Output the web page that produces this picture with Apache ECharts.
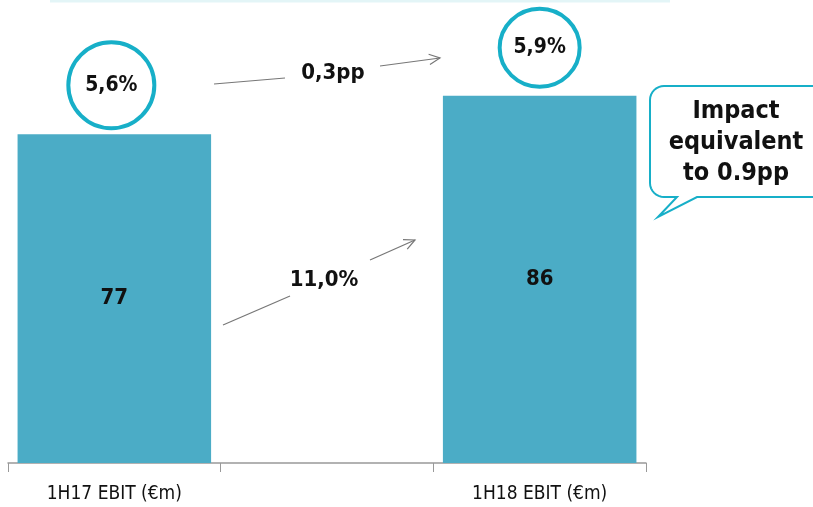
<!DOCTYPE html>
<html><head><meta charset="utf-8">
<script src="https://cdn.jsdelivr.net/npm/echarts@6/dist/echarts.min.js"></script>
<style>html,body{margin:0;padding:0;background:#fff}#c{width:813px;height:507px}</style>
</head><body><div id="c"></div>
<script>
const categories = ['1H17 EBIT (€m)', '', '1H18 EBIT (€m)'];
const ebit = [77, null, 86];
const margins = ['5,6%', '5,9%'];
const marginDelta = '0,3pp';
const ebitGrowth = '11,0%';
const calloutLines = ['Impact', 'equivalent', 'to 0.9pp'];

const FONT = '"Liberation Sans Narrow","DejaVu Sans Condensed","Roboto",sans-serif';
const BAR = '#4BACC6';
const RING = '#17AFC8';

const chart = echarts.init(document.getElementById('c'));
chart.setOption({
  animation: false,
  grid: { left: 8, right: 167, top: 36, bottom: 44 },
  xAxis: {
    type: 'category', data: categories,
    axisLine: { lineStyle: { color: '#999', width: 1.5 } },
    axisTick: { show: true, length: 9, lineStyle: { color: '#999' } },
    axisLabel: { color: '#111', fontSize: 19, fontFamily: FONT, margin: 22 }
  },
  yAxis: { type: 'value', min: 0, max: 100, show: false, splitLine: { show: false } },
  series: [{
    type: 'bar', data: ebit, barWidth: '91%',
    itemStyle: { color: BAR },
    label: { show: true, position: 'inside', color: '#111', fontSize: 22, fontWeight: 'bold', fontFamily: FONT }
  }]
});

const p0 = chart.convertToPixel({ xAxisIndex: 0 }, categories[0]);
const p2 = chart.convertToPixel({ xAxisIndex: 0 }, categories[2]);
const top0 = chart.convertToPixel({ yAxisIndex: 0 }, ebit[0]);
const top2 = chart.convertToPixel({ yAxisIndex: 0 }, ebit[2]);

function arrowHead(x, y, ang) {
  const L = 12, a = 0.45;
  return { type: 'polyline', shape: { points: [
    [x - L * Math.cos(ang - a), y - L * Math.sin(ang - a)], [x, y],
    [x - L * Math.cos(ang + a), y - L * Math.sin(ang + a)]] },
    style: { stroke: '#777', fill: null, lineWidth: 1.2 } };
}
function ring(cx, cy, rx, ry, txt) {
  return [
    { type: 'ellipse', shape: { cx, cy, rx, ry }, style: { fill: '#fff', stroke: RING, lineWidth: 4 } },
    { type: 'text', x: cx, y: cy, style: { text: txt, fill: '#111', font: 'bold 21px ' + FONT, align: 'center', verticalAlign: 'middle' } }
  ];
}
const txt = (x, y, t) => ({ type: 'text', x, y, style: { text: t, fill: '#111', font: 'bold 22px ' + FONT, align: 'center', verticalAlign: 'middle' } });
const line = (x1, y1, x2, y2) => ({ type: 'line', shape: { x1, y1, x2, y2 }, style: { stroke: '#777', lineWidth: 1.2 } });

function corner(cx, cy, r, a0, a1) {
  const pts = [];
  for (let i = 0; i <= 8; i++) { const a = a0 + (a1 - a0) * i / 8; pts.push([cx + r * Math.cos(a), cy + r * Math.sin(a)]); }
  return pts;
}
const R = 14, L0 = 650, T0 = 86, B0 = 197;
const calloutPts = [
  [830, T0], [830, B0], [697, B0], [658, 217], [677, B0],
  ...corner(L0 + R, B0 - R, R, Math.PI / 2, Math.PI),
  ...corner(L0 + R, T0 + R, R, Math.PI, Math.PI * 1.5)
];

const a1 = Math.atan2(58 - 66, 440 - 380);
const a2 = Math.atan2(240 - 260, 415 - 370);

chart.setOption({ graphic: [
  { type: 'line', shape: { x1: 50, y1: 1, x2: 670, y2: 1 }, style: { stroke: '#e3f5f7', lineWidth: 3 } },
  ...ring(p0 - 3, top0 - 49, 43, 43, margins[0]),
  ...ring(p2, top2 - 48, 40, 39, margins[1]),
  line(214, 84, 285, 78), line(380, 66, 440, 58), arrowHead(440, 58, a1),
  txt(333, 73, marginDelta),
  line(223, 325, 290, 296), line(370, 260, 415, 240), arrowHead(415, 240, a2),
  txt(324, 280, ebitGrowth),
  { type: 'polygon', shape: { points: calloutPts }, style: { fill: '#fff', stroke: RING, lineWidth: 2 } },
  { type: 'text', x: 736, y: 142, style: { text: calloutLines.join('\n'), fill: '#111', font: 'bold 25px ' + FONT, lineHeight: 31, align: 'center', verticalAlign: 'middle' } }
]});
</script></body></html>
